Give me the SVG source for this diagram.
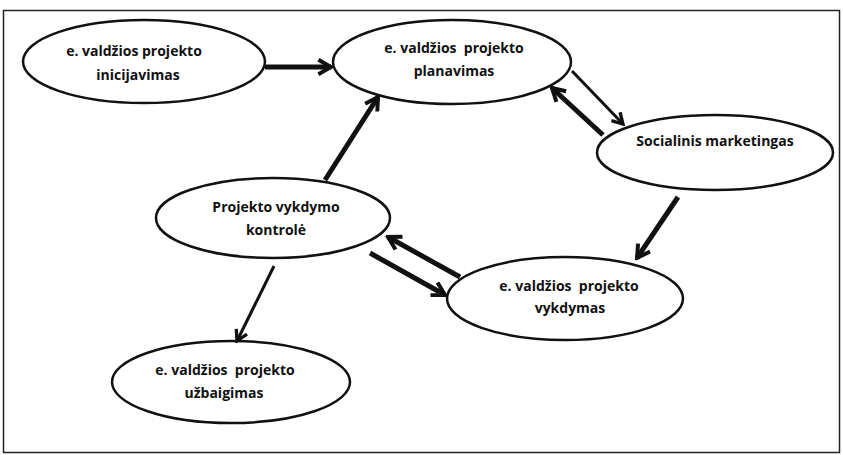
<svg xmlns="http://www.w3.org/2000/svg" width="843" height="455" viewBox="0 0 843 455">
<style>
.n ellipse{fill:#fff;stroke:#111;stroke-width:2.5}
.n text{font-family:"Open Sans","Liberation Sans",sans-serif;font-weight:bold;font-size:14px;fill:#111;text-anchor:middle}
.c line{stroke:#111;fill:none}
.thick{stroke-width:5}
.thin{stroke-width:3}
</style>
<defs>
<marker id="ah" viewBox="0 0 10 10" refX="8.5" refY="5" markerWidth="3.6" markerHeight="3.6" markerUnits="strokeWidth" orient="auto">
<path d="M1.5,1 L8.5,5 L1.5,9" fill="none" stroke="#111" stroke-width="2.2"/>
</marker>
<marker id="ah2" viewBox="0 0 10 10" refX="8.5" refY="5" markerWidth="5" markerHeight="5" markerUnits="strokeWidth" orient="auto">
<path d="M1.5,1 L8.5,5 L1.5,9" fill="none" stroke="#111" stroke-width="2.2"/>
</marker>
</defs>
<rect x="3.5" y="10.5" width="836" height="442" fill="#fff" stroke="#222" stroke-width="1.5"/>
<g id="n1" class="n"><ellipse cx="144" cy="61.5" rx="121" ry="41.5"/><text x="134" y="56">e. valdžios projekto</text><text x="138" y="80">inicijavimas</text></g>
<g id="n2" class="n"><ellipse cx="452" cy="62" rx="119" ry="42"/><text x="454" y="53" xml:space="preserve">e. valdžios  projekto</text><text x="454" y="76">planavimas</text></g>
<g id="n3" class="n"><ellipse cx="715" cy="152.5" rx="118" ry="37.5"/><text x="715" y="146">Socialinis marketingas</text></g>
<g id="n4" class="n"><ellipse cx="273" cy="218" rx="117" ry="40"/><text x="276" y="212">Projekto vykdymo</text><text x="276" y="235">kontrolė</text></g>
<g id="n5" class="n"><ellipse cx="565" cy="298.5" rx="118" ry="41.5"/><text x="569" y="291" xml:space="preserve">e. valdžios  projekto</text><text x="570" y="313">vykdymas</text></g>
<g id="n6" class="n"><ellipse cx="231" cy="382" rx="119" ry="41"/><text x="225" y="375" xml:space="preserve">e. valdžios  projekto</text><text x="224" y="398">užbaigimas</text></g>
<g class="c">
<line class="thick" x1="265" y1="67" x2="331" y2="67" marker-end="url(#ah)"/>
<line class="thin" x1="572" y1="71" x2="623" y2="124" marker-end="url(#ah2)"/>
<line class="thick" x1="603" y1="135" x2="552" y2="88" marker-end="url(#ah)"/>
<line class="thick" x1="678" y1="197" x2="637" y2="258" marker-end="url(#ah)"/>
<line class="thick" x1="325" y1="180" x2="378" y2="97" marker-end="url(#ah)"/>
<line class="thick" x1="460" y1="277" x2="388" y2="237" marker-end="url(#ah)"/>
<line class="thick" x1="370" y1="253" x2="445" y2="295" marker-end="url(#ah)"/>
<line class="thin" x1="274" y1="266" x2="237" y2="341" marker-end="url(#ah2)"/>
</g>
</svg>
